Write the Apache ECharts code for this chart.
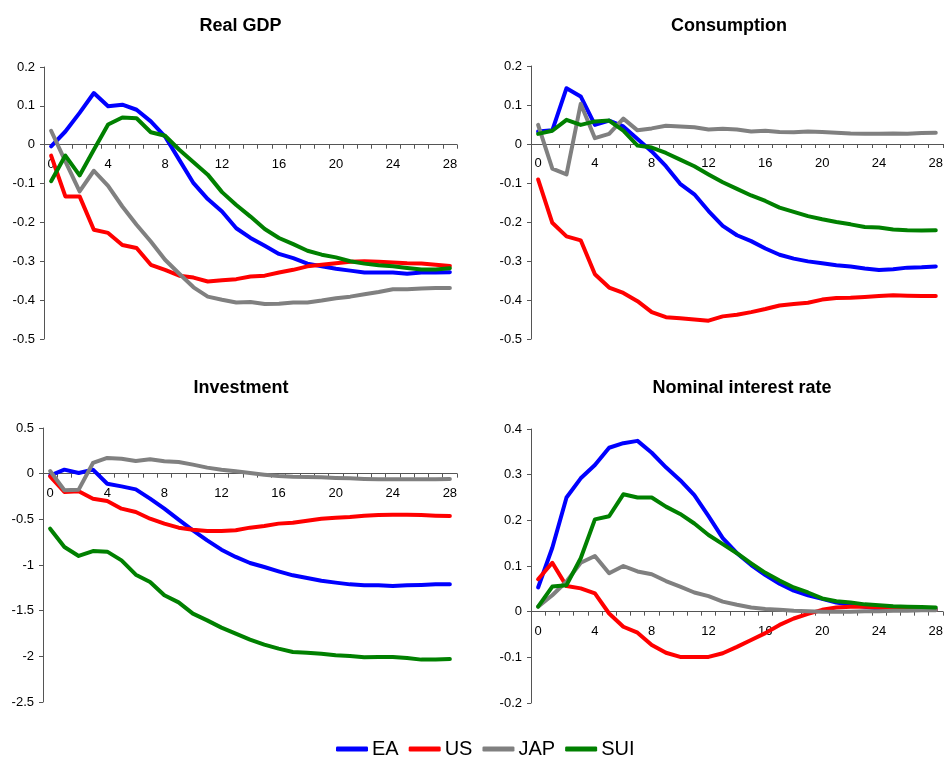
<!DOCTYPE html>
<html>
<head>
<meta charset="utf-8">
<script src="https://cdn.jsdelivr.net/npm/echarts@6/dist/echarts.min.js"></script>
<style>
html,body{margin:0;padding:0;background:#fff;}
#c{width:946px;height:758px;}
</style>
</head>
<body>
<div id="c"></div>
<script>
const quarters = ['0','1','2','3','4','5','6','7','8','9','10','11','12','13','14','15','16','17','18','19','20','21','22','23','24','25','26','27','28'];
const seriesNames = ['EA','US','JAP','SUI'];
const panelTitles = ['Real GDP','Consumption','Investment','Nominal interest rate'];

// Real GDP
const gdpEA  = [-0.004,0.034,0.082,0.133,0.099,0.103,0.090,0.060,0.021,-0.039,-0.099,-0.140,-0.172,-0.215,-0.240,-0.260,-0.281,-0.292,-0.306,-0.313,-0.319,-0.324,-0.329,-0.329,-0.329,-0.332,-0.329,-0.329,-0.328];
const gdpUS  = [-0.028,-0.133,-0.133,-0.219,-0.227,-0.258,-0.266,-0.309,-0.322,-0.337,-0.342,-0.352,-0.349,-0.346,-0.339,-0.337,-0.329,-0.322,-0.313,-0.309,-0.305,-0.301,-0.300,-0.301,-0.303,-0.305,-0.306,-0.309,-0.312];
const gdpJAP = [0.036,-0.043,-0.120,-0.067,-0.106,-0.159,-0.206,-0.249,-0.296,-0.332,-0.367,-0.391,-0.399,-0.406,-0.405,-0.410,-0.409,-0.406,-0.406,-0.401,-0.395,-0.391,-0.385,-0.379,-0.372,-0.372,-0.370,-0.369,-0.369];
const gdpSUI = [-0.094,-0.028,-0.079,-0.013,0.052,0.070,0.068,0.032,0.023,-0.013,-0.045,-0.077,-0.122,-0.155,-0.185,-0.217,-0.240,-0.256,-0.273,-0.283,-0.290,-0.300,-0.306,-0.310,-0.313,-0.317,-0.321,-0.321,-0.318];

// Consumption
const conEA  = [0.032,0.035,0.143,0.122,0.049,0.060,0.045,0.013,-0.019,-0.057,-0.102,-0.129,-0.172,-0.210,-0.234,-0.249,-0.268,-0.284,-0.294,-0.301,-0.306,-0.311,-0.314,-0.319,-0.323,-0.321,-0.317,-0.316,-0.314];
const conUS  = [-0.091,-0.202,-0.237,-0.247,-0.334,-0.368,-0.382,-0.403,-0.431,-0.444,-0.447,-0.450,-0.453,-0.442,-0.438,-0.431,-0.423,-0.414,-0.410,-0.407,-0.399,-0.395,-0.394,-0.392,-0.390,-0.388,-0.389,-0.390,-0.390];
const conJAP = [0.049,-0.063,-0.078,0.103,0.015,0.026,0.065,0.035,0.040,0.047,0.045,0.043,0.037,0.039,0.037,0.032,0.034,0.031,0.030,0.032,0.031,0.029,0.027,0.026,0.026,0.027,0.026,0.028,0.029];
const conSUI = [0.026,0.034,0.062,0.049,0.058,0.060,0.034,-0.004,-0.009,-0.023,-0.040,-0.057,-0.078,-0.098,-0.115,-0.132,-0.146,-0.163,-0.174,-0.185,-0.193,-0.200,-0.206,-0.213,-0.214,-0.219,-0.221,-0.222,-0.221];

// Investment
const invEA  = [-0.020,0.044,0.007,0.044,-0.110,-0.139,-0.172,-0.274,-0.383,-0.504,-0.620,-0.730,-0.832,-0.912,-0.978,-1.022,-1.069,-1.113,-1.142,-1.172,-1.193,-1.212,-1.223,-1.223,-1.230,-1.223,-1.219,-1.212,-1.212];
const invUS  = [-0.030,-0.200,-0.193,-0.274,-0.300,-0.383,-0.420,-0.493,-0.547,-0.591,-0.613,-0.628,-0.628,-0.620,-0.591,-0.573,-0.547,-0.537,-0.515,-0.493,-0.482,-0.474,-0.460,-0.453,-0.449,-0.449,-0.453,-0.460,-0.464];
const invJAP = [0.029,-0.182,-0.175,0.117,0.172,0.164,0.139,0.157,0.135,0.128,0.099,0.066,0.044,0.026,0.007,-0.011,-0.026,-0.033,-0.036,-0.040,-0.047,-0.051,-0.058,-0.062,-0.062,-0.062,-0.062,-0.062,-0.058];
const invSUI = [-0.602,-0.803,-0.901,-0.847,-0.854,-0.949,-1.106,-1.186,-1.332,-1.409,-1.533,-1.606,-1.686,-1.752,-1.818,-1.872,-1.916,-1.953,-1.960,-1.971,-1.989,-1.996,-2.011,-2.007,-2.007,-2.018,-2.036,-2.036,-2.029];

// Nominal interest rate
const rateEA  = [0.053,0.140,0.250,0.292,0.321,0.359,0.369,0.374,0.348,0.316,0.288,0.255,0.209,0.161,0.128,0.102,0.080,0.061,0.046,0.036,0.028,0.020,0.015,0.011,0.007,0.006,0.005,0.005,0.005];
const rateUS  = [0.071,0.107,0.056,0.051,0.040,-0.004,-0.033,-0.046,-0.073,-0.090,-0.099,-0.099,-0.099,-0.091,-0.077,-0.062,-0.047,-0.029,-0.015,-0.005,0.004,0.009,0.011,0.011,0.009,0.007,0.005,0.004,0.004];
const rateJAP = [0.011,0.036,0.066,0.107,0.122,0.084,0.100,0.088,0.082,0.067,0.055,0.042,0.034,0.022,0.015,0.009,0.006,0.004,0.002,0.001,0.000,0.000,0.000,0.001,0.001,0.002,0.002,0.003,0.003];
const rateSUI = [0.011,0.055,0.058,0.117,0.202,0.209,0.257,0.250,0.250,0.230,0.214,0.193,0.168,0.148,0.128,0.106,0.085,0.068,0.053,0.042,0.029,0.023,0.020,0.016,0.014,0.012,0.011,0.010,0.009];

// y-axis ranges: [min, max, interval]
const yRanges = [[-0.5,0.2,0.1],[-0.5,0.2,0.1],[-2.5,0.5,0.5],[-0.2,0.4,0.1]];

const colors = ['#0000FF','#FF0000','#808080','#008000'];
const panelData = [
  [gdpEA, gdpUS, gdpJAP, gdpSUI],
  [conEA, conUS, conJAP, conSUI],
  [invEA, invUS, invJAP, invSUI],
  [rateEA, rateUS, rateJAP, rateSUI]
];

const FONT = "'Liberation Sans', Arial, sans-serif";
const grids = [
  {left:44, top:67, width:413, height:272},
  {left:531, top:66, width:413, height:273},
  {left:43, top:428, width:414, height:274},
  {left:531, top:429, width:413, height:274}
];
const titlePos = [[235.5,12],[724,12],[236,374],[737,374]];

const option = {
  backgroundColor:'#fff',
  animation:false,
  color: colors,
  title: panelTitles.map((t,i)=>({
    text:t, left:titlePos[i][0], top:titlePos[i][1], textAlign:'center',
    textStyle:{fontFamily:FONT, fontWeight:'bold', fontSize:18, color:'#000'}
  })),
  legend: {
    data: seriesNames, left:331, top:734,
    icon:'roundRect', itemWidth:32, itemHeight:5, itemGap:10,
    textStyle:{fontFamily:FONT, fontSize:20, color:'#000', padding:[0,0,0,-1]}
  },
  grid: grids.map(g=>Object.assign({containLabel:false}, g)),
  xAxis: grids.map((g,i)=>{
    const [mn,mx] = yRanges[i];
    // distance from grid bottom to the zero line, so the axis sits on y = 0
    const zeroFromBottom = g.height * (0 - mn) / (mx - mn);
    return {
      type:'category', gridIndex:i, data:quarters, boundaryGap:true,
      position:'bottom', offset:-zeroFromBottom,
      axisLine:{onZero:false, lineStyle:{color:'#555', width:1}},
      axisTick:{show:true, interval:0, length:4, inside:false, lineStyle:{color:'#555'}},
      axisLabel:{interval:3, margin:13, fontFamily:FONT, fontSize:13, color:'#000'},
      splitLine:{show:false}
    };
  }),
  yAxis: grids.map((g,i)=>({
    type:'value', gridIndex:i, min:yRanges[i][0], max:yRanges[i][1], interval:yRanges[i][2],
    axisLine:{show:true, lineStyle:{color:'#555', width:1}},
    axisTick:{show:true, length:4, lineStyle:{color:'#555'}},
    axisLabel:{margin:9, fontFamily:FONT, fontSize:13, color:'#000'},
    splitLine:{show:false}
  })),
  series: []
};
panelData.forEach((arrs,p)=>{
  arrs.forEach((d,k)=>{
    option.series.push({
      name: seriesNames[k], type:'line', xAxisIndex:p, yAxisIndex:p,
      data:d, symbol:'none', smooth:false,
      lineStyle:{width:4, color:colors[k], join:'round', cap:'round'},
      itemStyle:{color:colors[k]}
    });
  });
});
const chart = echarts.init(document.getElementById('c'), null, {renderer:'canvas'});
chart.setOption(option);
</script>
</body>
</html>
